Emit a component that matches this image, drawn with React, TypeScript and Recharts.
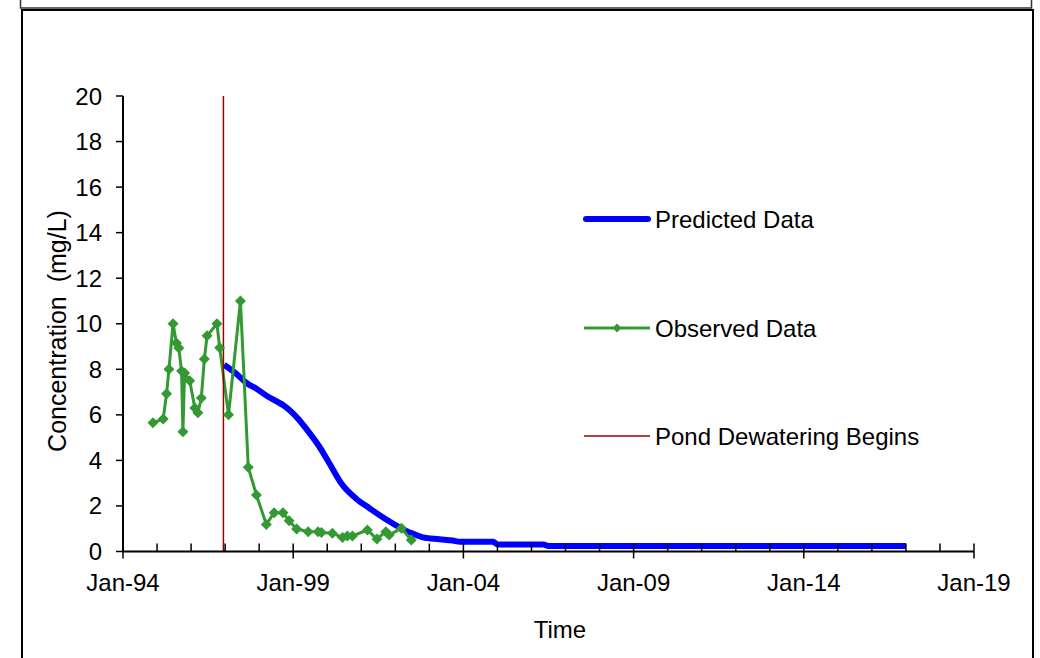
import React from 'react';
import { ComposedChart, Line, XAxis, YAxis } from 'recharts';

// ---- data ----
const yearTicks = [1994, 1995, 1996, 1997, 1998, 1999, 2000, 2001, 2002, 2003, 2004, 2005, 2006, 2007, 2008, 2009, 2010, 2011, 2012, 2013, 2014, 2015, 2016, 2017, 2018, 2019];
const majorYears = [1994, 1999, 2004, 2009, 2014, 2019];
const concTicks = [0, 2, 4, 6, 8, 10, 12, 14, 16, 18, 20];

const observedTime = [1994.88, 1995.18, 1995.28, 1995.35, 1995.47, 1995.57, 1995.64, 1995.72, 1995.76, 1995.81, 1995.96, 1996.11, 1996.2, 1996.3, 1996.39, 1996.47, 1996.76, 1996.84, 1997.1, 1997.45, 1997.68, 1997.92, 1998.21, 1998.44, 1998.7, 1998.88, 1999.1, 1999.44, 1999.73, 1999.83, 2000.15, 2000.45, 2000.59, 2000.74, 2001.18, 2001.46, 2001.72, 2001.82, 2002.18, 2002.47];
const observedConc = [5.65, 5.82, 6.93, 8.0, 10.0, 9.15, 8.93, 7.92, 5.26, 7.84, 7.5, 6.3, 6.09, 6.74, 8.45, 9.47, 10.0, 8.95, 6.0, 11.0, 3.7, 2.48, 1.19, 1.7, 1.7, 1.35, 0.99, 0.87, 0.87, 0.83, 0.8, 0.62, 0.68, 0.68, 0.94, 0.55, 0.87, 0.72, 1.02, 0.5];

const predictedTime = [1996.97, 1997.33, 1997.63, 1997.92, 1998.21, 1998.5, 1998.71, 1999.1, 1999.48, 1999.77, 2000.07, 2000.41, 2000.85, 2001.24, 2001.63, 2002.03, 2002.42, 2002.81, 2003.3, 2003.69, 2003.9, 2004.87, 2005.0, 2006.35, 2006.5, 2017.0];
const predictedConc = [8.2, 7.8, 7.4, 7.15, 6.85, 6.6, 6.42, 5.9, 5.2, 4.6, 3.85, 3.0, 2.32, 1.9, 1.5, 1.14, 0.84, 0.62, 0.54, 0.48, 0.43, 0.43, 0.31, 0.31, 0.24, 0.24];

const dewateringTime = [1996.95, 1996.95];
const dewateringConc = [0, 20];

const seriesNames = ['Predicted Data', 'Observed Data', 'Pond Dewatering Begins'];

const observed = observedTime.map((t, i) => ({ t, v: observedConc[i] }));
const predicted = predictedTime.map((t, i) => ({ t, v: predictedConc[i] }));
const dewatering = dewateringTime.map((t, i) => ({ t, v: dewateringConc[i] }));

const FONT = '"Liberation Sans", Arial, sans-serif';
const BLUE = '#0000ff';
const GREEN = '#339933';
const RED = '#990000';

const XTick = (props: any) => {
  const { x, y, payload } = props;
  const yr = payload.value as number;
  const major = majorYears.includes(yr);
  return (
    <g>
      <line x1={x} x2={x} y1={y - 8} y2={major ? y + 7 : y} stroke="#000" strokeWidth={1.5} />
      {major && (
        <text x={x} y={y + 39} textAnchor="middle" fontSize={24} fontFamily={FONT} fill="#000">
          {'Jan-' + String(yr).slice(2)}
        </text>
      )}
    </g>
  );
};

const Diamond = (props: any) => {
  const { cx, cy, index } = props;
  if (cx == null || cy == null) return <g key={'n' + index} />;
  const s = 5.5;
  return <path key={'d' + index} d={`M${cx},${cy - s}L${cx + s},${cy}L${cx},${cy + s}L${cx - s},${cy}Z`} fill={GREEN} />;
};

export default function App() {
  return (
    <div style={{ position: 'absolute', left: 0, top: 0, width: 1040, height: 658, background: '#fff', overflow: 'hidden' }}>
      <div style={{ position: 'absolute', left: 0, top: 0 }}>
        <ComposedChart width={1040} height={658} margin={{ top: 96, right: 66, left: 63, bottom: 0 }}>
          <XAxis
            type="number"
            dataKey="t"
            domain={[1994, 2019]}
            ticks={yearTicks}
            interval={0}
            allowDataOverflow
            height={106.5}
            axisLine={{ stroke: '#000', strokeWidth: 2 }}
            tickLine={false}
            tickSize={0}
            tickMargin={0}
            tick={<XTick />}
          />
          <YAxis
            type="number"
            domain={[0, 20]}
            ticks={concTicks}
            interval={0}
            width={60}
            axisLine={{ stroke: '#000', strokeWidth: 2 }}
            tickLine={{ stroke: '#000', strokeWidth: 1.5 }}
            tickSize={7}
            tickMargin={14}
            tick={{ fill: '#000', fontSize: 24, fontFamily: FONT }}
          />
          <Line data={predicted} dataKey="v" name={seriesNames[0]} type="monotone" stroke={BLUE} strokeWidth={6} dot={false} isAnimationActive={false} strokeLinejoin="round" />
          <Line data={observed} dataKey="v" name={seriesNames[1]} stroke={GREEN} strokeWidth={3} dot={Diamond} isAnimationActive={false} />
          <Line data={dewatering} dataKey="v" name={seriesNames[2]} stroke={RED} strokeWidth={1.5} dot={false} isAnimationActive={false} />
        </ComposedChart>
      </div>
      <svg width={1040} height={658} style={{ position: 'absolute', left: 0, top: 0, pointerEvents: 'none' }}>
        <rect x={20.5} y={-10} width={1011} height={18} fill="none" stroke="#333" strokeWidth={1.5} />
        <rect x={22} y={10} width={1011} height={700} fill="none" stroke="#000" strokeWidth={2} />
        <text x={560} y={638} textAnchor="middle" fontSize={24} fontFamily={FONT} fill="#000">Time</text>
        <text
          x={57}
          y={331}
          transform="rotate(-90 57 331)"
          textAnchor="middle"
          dominantBaseline="central"
          fontSize={25}
          fontFamily={FONT}
          fill="#000"
          style={{ whiteSpace: 'pre' }}
        >
          {'Concentration  (mg/L)'}
        </text>
        <line x1={586} x2={648} y1={219} y2={219} stroke={BLUE} strokeWidth={6} strokeLinecap="round" />
        <text x={655} y={227.5} fontSize={24} fontFamily={FONT} fill="#000">{seriesNames[0]}</text>
        <line x1={584} x2={650} y1={328} y2={328} stroke={GREEN} strokeWidth={3} />
        <path d="M617,323.5L621.5,328L617,332.5L612.5,328Z" fill={GREEN} />
        <text x={655} y={336.5} fontSize={24} fontFamily={FONT} fill="#000">{seriesNames[1]}</text>
        <line x1={584} x2={650} y1={436} y2={436} stroke={RED} strokeWidth={1.5} />
        <text x={655} y={444.5} fontSize={24} fontFamily={FONT} fill="#000">{seriesNames[2]}</text>
      </svg>
    </div>
  );
}
